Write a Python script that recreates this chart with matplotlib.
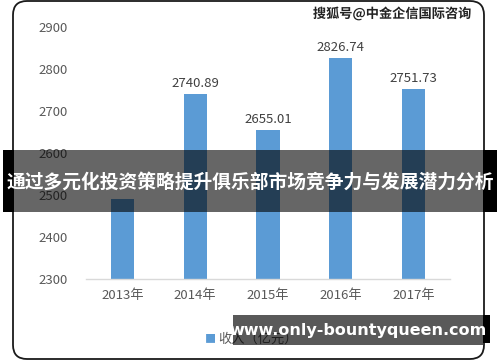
import matplotlib
matplotlib.use("Agg")
import matplotlib.pyplot as plt
from matplotlib.patches import FancyBboxPatch, Rectangle
from matplotlib.transforms import IdentityTransform
import matplotlib.patheffects as pe

plt.rcParams['font.family'] = ['Noto Sans CJK SC', 'DejaVu Sans']

categories = ['2013年', '2014年', '2015年', '2016年', '2017年']
values = [2490.0, 2740.89, 2655.01, 2826.74, 2751.73]
value_labels = ['', '2740.89', '2655.01', '2826.74', '2751.73']
yticks = [2300, 2400, 2500, 2600, 2700, 2800, 2900]
legend_label = '收入（亿元）'
title = '通过多元化投资策略提升俱乐部市场竞争力与发展潜力分析'
watermark = '搜狐号@中金企信国际咨询'
url = 'www.only-bountyqueen.com'

W, H = 500, 362
fig = plt.figure(figsize=(W / 100, H / 100), dpi=100)
fig.patch.set_facecolor('white')

def rect(x0, y0, x1, y1, **kw):
    # top-left pixel box -> figure-fraction rectangle
    r = Rectangle((x0 / W, 1 - y1 / H), (x1 - x0) / W, (y1 - y0) / H,
                  transform=fig.transFigure, edgecolor='none', **kw)
    fig.add_artist(r)
    return r

ax = fig.add_axes([86 / W, 1 - 279 / H, (450 - 86) / W, (279 - 27) / H])
x = range(len(categories))
ax.bar(x, values, width=0.32, color='#5b9bd5', zorder=2)
ax.set_ylim(2300, 2900)
ax.set_xlim(-0.5, len(categories) - 0.5)
ax.set_yticks(yticks)
ax.set_yticklabels([str(t) for t in yticks], fontsize=9.5, color='#595959')
ax.set_xticks(list(x))
ax.set_xticklabels(categories, fontsize=9.5, color='#595959')
ax.tick_params(axis='y', length=0, pad=13)
ax.tick_params(axis='x', length=0, pad=7)
for s in ['top', 'right', 'left']:
    ax.spines[s].set_visible(False)
ax.spines['bottom'].set_color('#d9d9d9')
ax.spines['bottom'].set_linewidth(1.0)
for i, (v, lab) in enumerate(zip(values, value_labels)):
    if lab:
        ax.annotate(lab, (i, v), xytext=(0, 3), textcoords='offset points',
                    ha='center', va='bottom', fontsize=9.5, color='#404040')

# rounded frame
frame = FancyBboxPatch((13, H - 359), 484 - 13, 358, boxstyle='round,pad=0,rounding_size=14',
                       transform=IdentityTransform(), facecolor='none', edgecolor='#1a1a1a',
                       linewidth=1.3, zorder=1)
fig.add_artist(frame)

# legend (partly hidden)
fig.text(210 / W, 1 - 339 / H, '■', fontsize=8, color='#5b9bd5', ha='center', va='center')
fig.text(218 / W, 1 - 339 / H, legend_label, fontsize=9.5, color='#595959', ha='left', va='center')

# watermark
fig.text(472 / W, 1 - 14 / H, watermark, fontsize=9.5, fontweight='bold', color='#222222',
         ha='right', va='center',
         path_effects=[pe.withStroke(linewidth=2, foreground='white')])

# title banner
rect(3, 150, 14, 212, facecolor='black', zorder=5)
rect(483, 150, 497, 212, facecolor='black', zorder=5)
rect(14, 150, 483, 212, facecolor='black', alpha=0.6, zorder=6)
fig.text(250 / W, 1 - 182 / H, title, fontsize=13.5, fontweight='bold', color='white',
         ha='center', va='center', zorder=8)

# url banner
rect(483, 315, 490, 343, facecolor='black', zorder=5)
rect(233, 315, 483, 345, facecolor='black', alpha=0.65, zorder=6)
fig.text(358 / W, 1 - 330 / H, url, fontsize=11.5, fontweight='bold', color='white',
         family='DejaVu Sans', ha='center', va='center', zorder=8)

fig.savefig('out.png', dpi=100, facecolor='white')
